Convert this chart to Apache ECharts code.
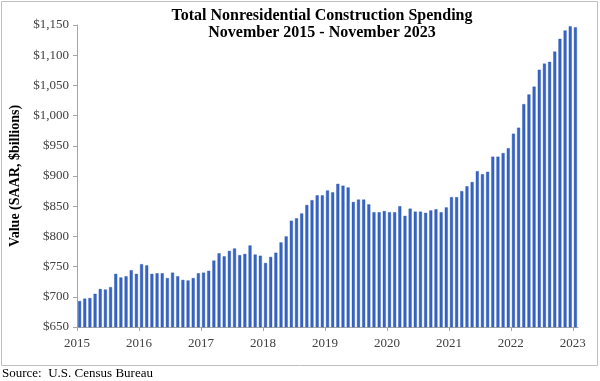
<!DOCTYPE html>
<html>
<head>
<meta charset="utf-8">
<script src="https://cdn.jsdelivr.net/npm/echarts@6/dist/echarts.min.js"></script>
<style>
html,body{margin:0;padding:0;background:#fff;}
#chart{width:600px;height:381px;}
</style>
</head>
<body>
<div id="chart"></div>
<script>
// Monthly values, Nov 2015 - Nov 2023 ($ billions, SAAR)
var values = [
  693, 697, 698, 705, 713, 712, 716, 738, 732, 734, 744, 738,   // Nov15-Oct16
  754, 752, 738, 739, 739, 731, 740, 734, 728, 727, 731, 739,   // Nov16-Oct17
  740, 743, 760, 772, 767, 776, 780, 769, 771, 785, 770, 768,   // Nov17-Oct18
  756, 766, 773, 790, 800, 826, 830, 838, 852, 860, 868, 868,   // Nov18-Oct19
  876, 873, 887, 884, 881, 857, 861, 861, 853, 840, 840, 842,   // Nov19-Oct20
  840, 840, 850, 834, 846, 841, 841, 839, 843, 845, 840, 848,   // Nov20-Oct21
  865, 865, 875, 883, 890, 908, 903, 907, 932, 932, 938, 946,   // Nov21-Oct22
  970, 980, 1019, 1035, 1048, 1076, 1086, 1089, 1106, 1127, 1141, 1148, // Nov22-Oct23
  1146                                                            // Nov23
];
var yearLabels = ['2015','2016','2017','2018','2019','2020','2021','2022','2023'];
var titleLines = ['Total Nonresidential Construction Spending', 'November 2015 - November 2023'];
var yAxisTitle = 'Value (SAAR, $billions)';
var sourceText = 'Source:  U.S. Census Bureau';

var serif = '"Liberation Serif", "Times New Roman", serif';
var chart = echarts.init(document.getElementById('chart'), null, {renderer: 'canvas'});

var barData = values.map(function (v, i) { return [i + 0.5, v]; });

chart.setOption({
  animation: false,
  backgroundColor: '#ffffff',
  grid: {left: 67, right: 22, top: 25, bottom: 54, containLabel: false},
  xAxis: {
    type: 'value',
    min: 0,
    max: values.length,
    interval: 12,
    axisLine: {show: true, lineStyle: {color: '#a6a6a6', width: 1}},
    axisTick: {show: true, length: 4, lineStyle: {color: '#a6a6a6'}},
    splitLine: {show: false},
    axisLabel: {
      margin: 10,
      fontFamily: serif,
      fontSize: 13,
      color: '#404040',
      showMaxLabel: false,
      formatter: function (v) {
        var idx = Math.round(v / 12);
        return (v % 12 === 0 && yearLabels[idx]) ? yearLabels[idx] : '';
      }
    }
  },
  yAxis: {
    type: 'value',
    min: 650,
    max: 1150,
    interval: 50,
    name: yAxisTitle,
    nameLocation: 'middle',
    nameGap: 55,
    nameRotate: 90,
    nameTextStyle: {fontFamily: serif, fontSize: 14, fontWeight: 'bold', color: '#000'},
    axisLine: {show: true, lineStyle: {color: '#a6a6a6', width: 1}},
    axisTick: {show: true, length: 4, lineStyle: {color: '#a6a6a6'}},
    splitLine: {show: false},
    axisLabel: {
      margin: 8,
      fontFamily: serif,
      fontSize: 13,
      color: '#404040',
      formatter: function (v) { return '$' + v.toLocaleString('en-US'); }
    }
  },
  series: [{
    type: 'bar',
    data: barData,
    barWidth: 3,
    itemStyle: {color: '#3564c4', borderColor: '#2c55ad', borderWidth: 0.4},
    clip: true
  }],
  graphic: [
    {
      type: 'rect', z: -1, silent: true,
      shape: {x: 1.5, y: 1.5, width: 596, height: 364},
      style: {fill: 'none', stroke: '#bfbfbf', lineWidth: 1}
    },
    {
      type: 'text', z: 10,
      style: {
        x: 322, y: 7,
        text: titleLines.join('\n'),
        textAlign: 'center',
        textVerticalAlign: 'top',
        font: 'bold 16px ' + serif,
        lineHeight: 17,
        fill: '#000'
      }
    },
    {
      type: 'text', left: 2, top: 367,
      style: {text: sourceText, font: '13px ' + serif, fill: '#000'}
    }
  ]
});
</script>
</body>
</html>
